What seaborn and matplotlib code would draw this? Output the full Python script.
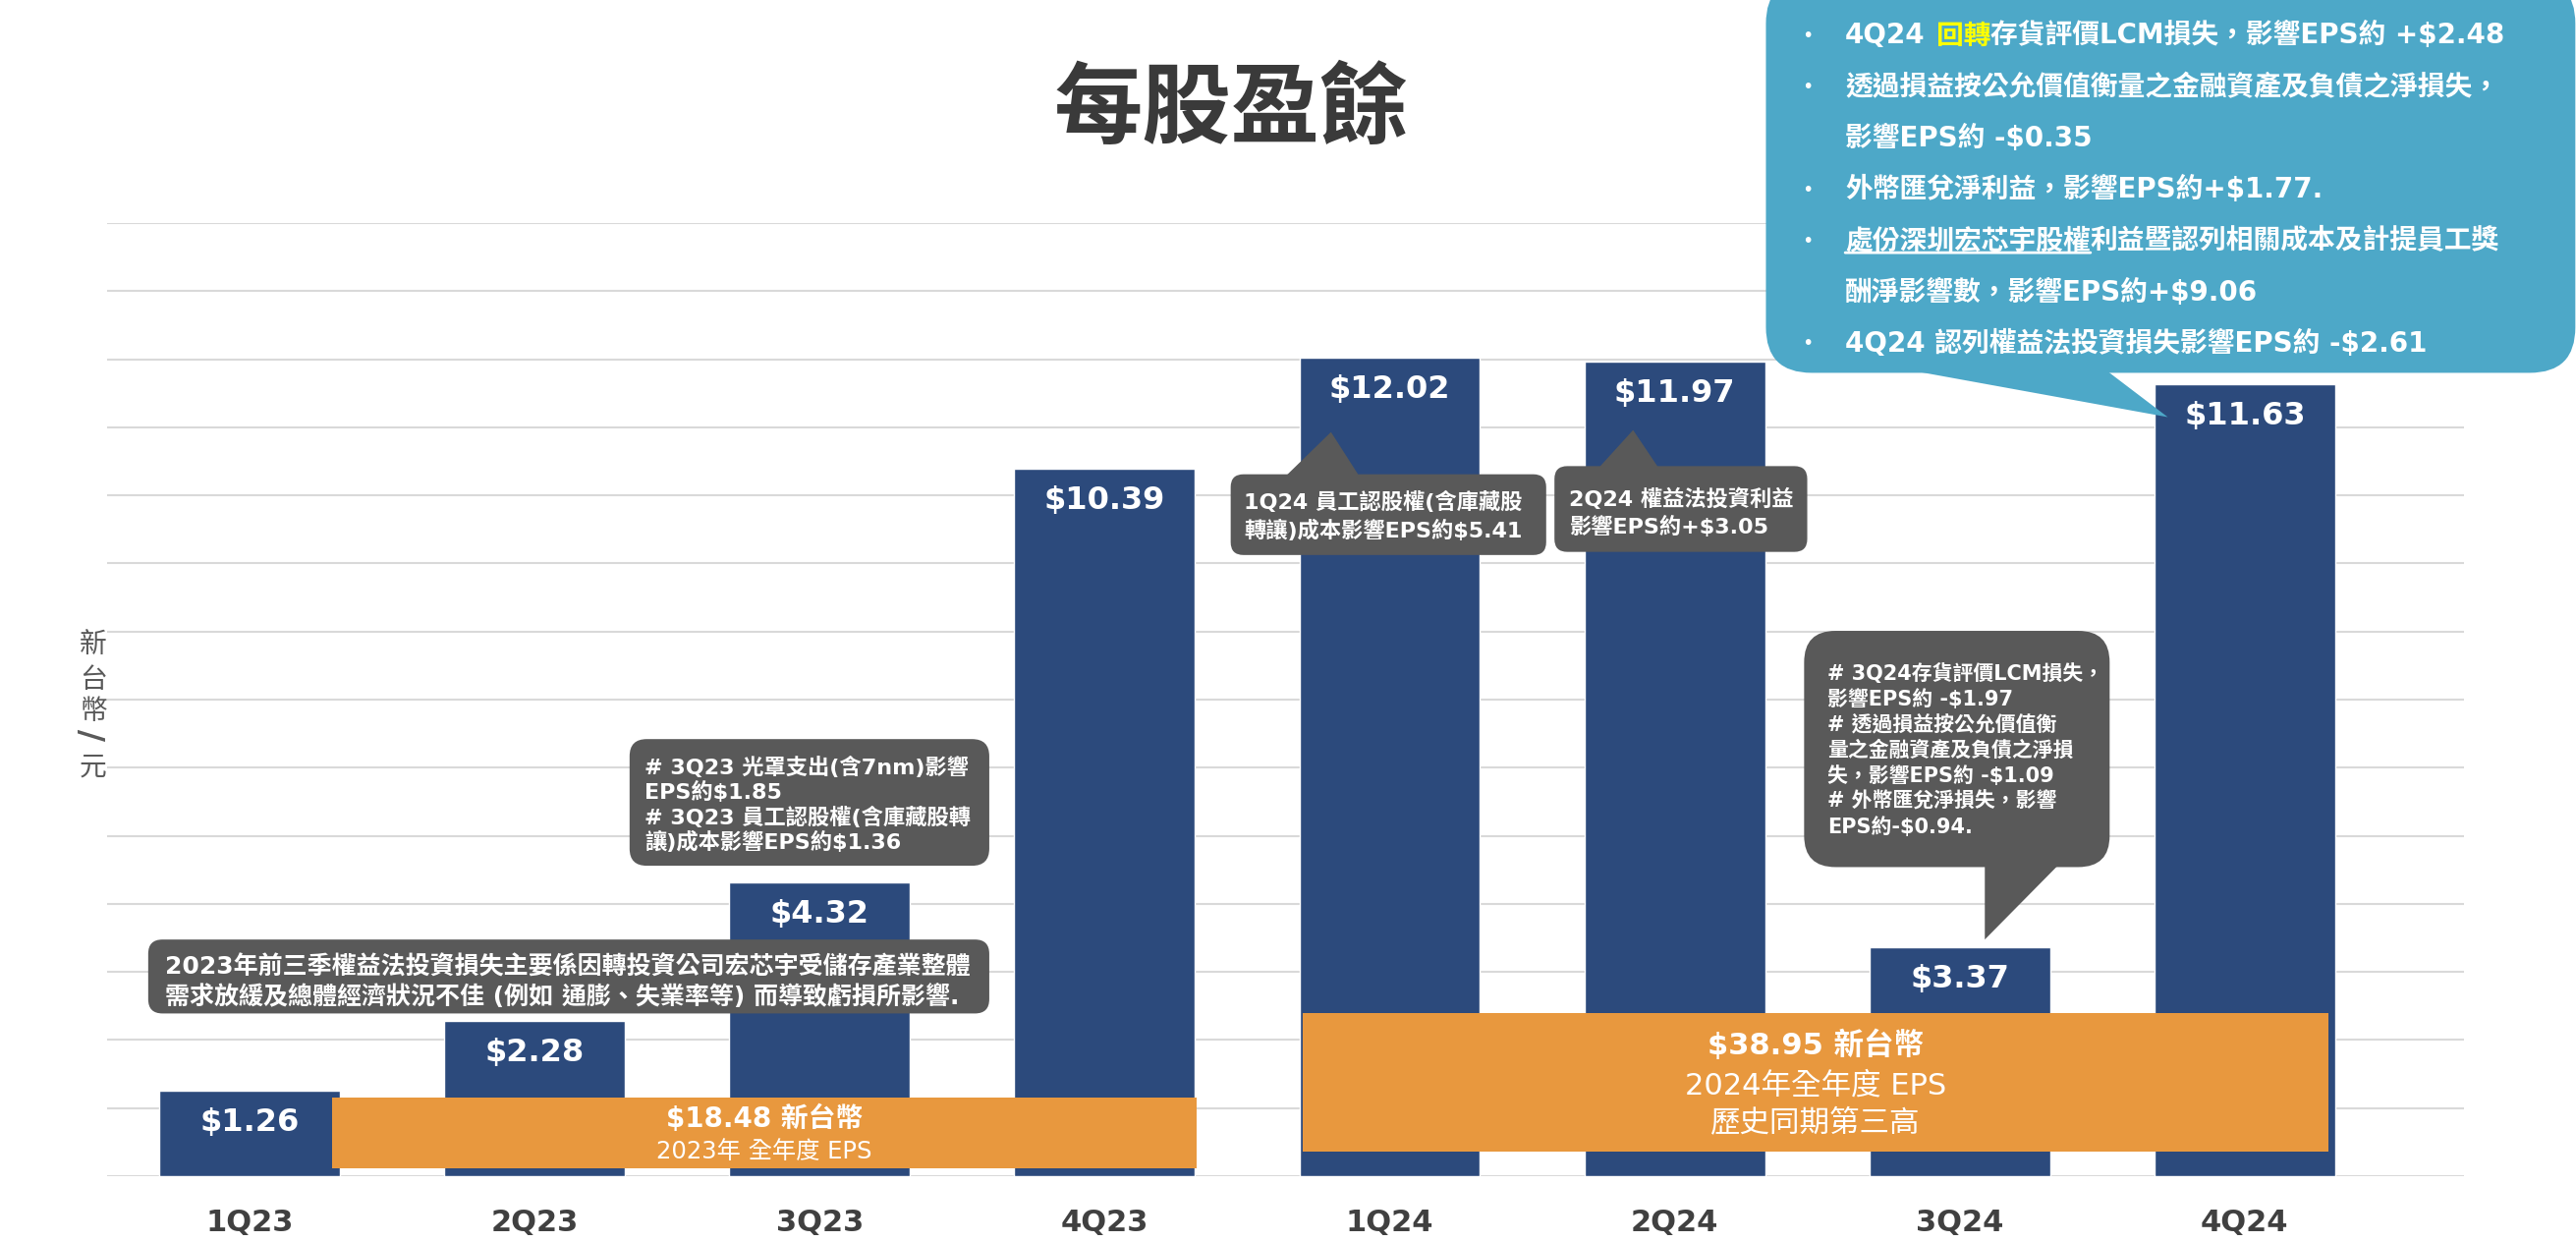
import pandas as pd
import seaborn as sns
import matplotlib.pyplot as plt
from matplotlib.patches import FancyBboxPatch, Polygon, Rectangle

# Données : BPA trimestriels (NT$)
quarters = ['1Q23', '2Q23', '3Q23', '4Q23', '1Q24', '2Q24', '3Q24', '4Q24']
eps = [1.26, 2.28, 4.32, 10.39, 12.02, 11.97, 3.37, 11.63]

title = '每股盈餘'
y_label_chars = ['新', '台', '幣', '/', '元']

total_2023 = ['$18.48 新台幣', '2023年 全年度 EPS']
total_2024 = ['$38.95 新台幣', '2024年全年度 EPS', '歷史同期第三高']

note_2023 = ['2023年前三季權益法投資損失主要係因轉投資公司宏芯宇受儲存產業整體',
             '需求放緩及總體經濟狀況不佳 (例如 通膨、失業率等) 而導致虧損所影響.']
note_3q23 = ['# 3Q23 光罩支出(含7nm)影響', 'EPS約$1.85',
             '# 3Q23 員工認股權(含庫藏股轉', '讓)成本影響EPS約$1.36']
note_1q24 = ['1Q24 員工認股權(含庫藏股', '轉讓)成本影響EPS約$5.41']
note_2q24 = ['2Q24 權益法投資利益', '影響EPS約+$3.05']
note_3q24 = ['# 3Q24存貨評價LCM損失，', '影響EPS約 -$1.97', '# 透過損益按公允價值衡',
             '量之金融資產及負債之淨損', '失，影響EPS約 -$1.09', '# 外幣匯兌淨損失，影響',
             'EPS約-$0.94.']
note_4q24_simple = {1: '透過損益按公允價值衡量之金融資產及負債之淨損失，',
                    2: '影響EPS約 -$0.35',
                    3: '外幣匯兌淨利益，影響EPS約+$1.77.',
                    5: '酬淨影響數，影響EPS約+$9.06',
                    6: '4Q24 認列權益法投資損失影響EPS約 -$2.61'}
note_4q24_l0 = ['4Q24', '回轉', '存貨評價LCM損失，影響EPS約 +$2.48']
note_4q24_l4 = ['處份深圳宏芯宇股權', '利益暨認列相關成本及計提員工獎']
bullet_rows = [0, 1, 3, 4, 6]

BAR = '#2C4A7C'
ORANGE = '#E8983E'
GREY = '#595959'
BLUE = '#4DA8C8'

sns.set_style('white')
plt.rcParams['font.family'] = ['DejaVu Sans', 'Noto Sans CJK TC']

fig = plt.figure(figsize=(26.22, 12.64), dpi=100)
ax = fig.add_axes([0.0416, 0.0530, 0.9150, 0.7674])

df = pd.DataFrame({'quarter': quarters, 'eps': eps})
sns.barplot(data=df, x='quarter', y='eps', color=BAR, saturation=1, width=0.634,
            ax=ax, zorder=2)

ax.set_xlim(-0.5, 7.77)
ax.set_ylim(0, 14)
ax.set_yticks(range(0, 15))
ax.set_yticklabels([])
ax.tick_params(axis='y', length=0)
ax.grid(axis='y', color='#D9D9D9', lw=1.5)
ax.set_axisbelow(True)
ax.set_xlabel('')
ax.set_ylabel('')
for s in ax.spines.values():
    s.set_visible(False)
ax.tick_params(axis='x', length=0, pad=24, labelsize=22, labelcolor='#404040')
for lab in ax.get_xticklabels():
    lab.set_fontweight('bold')

# valeurs sur les barres
for i, v in enumerate(eps):
    ax.text(i, v - 0.47, f'${v:.2f}', ha='center', va='center', color='white',
            fontsize=23, fontweight='bold', zorder=3)

# rapport px/unité pour des coins bien ronds
ASPECT = (0.9150 * 2622 / 8.27) / (0.7674 * 1264 / 14)


def box(x0, y0, x1, y1, color, r=0.0, pointer=None, z=5):
    ax.add_patch(FancyBboxPatch((x0, y0), x1 - x0, y1 - y0,
                                boxstyle=f'round,pad=0,rounding_size={r}',
                                mutation_aspect=ASPECT, fc=color, ec='none',
                                zorder=z, clip_on=False))
    if pointer is not None:
        ax.add_patch(Polygon(pointer, closed=True, fc=color, ec='none', zorder=z,
                             clip_on=False))


def write_lines(x, y, lines, step, **kw):
    out = []
    for i, s in enumerate(lines):
        out.append(ax.annotate(s, (x, y), xytext=(0, -i * step), textcoords='offset points',
                               ha='left', va='center', color='white', zorder=7,
                               annotation_clip=False, **kw))
    return out


# totaux annuels (orange)
ax.add_patch(Rectangle((0.290, 0.121), 3.031, 1.038, fc=ORANGE, ec='none', zorder=4))
ax.text(1.805, 0.845, total_2023[0], ha='center', va='center', color='white',
        fontsize=20, fontweight='bold', zorder=6)
ax.text(1.805, 0.362, total_2023[1], ha='center', va='center', color='white',
        fontsize=17.5, zorder=6)

ax.add_patch(Rectangle((3.696, 0.362), 3.597, 2.028, fc=ORANGE, ec='none', zorder=4))
ax.text(5.494, 1.931, total_2024[0], ha='center', va='center', color='white',
        fontsize=22, fontweight='bold', zorder=6)
ax.text(5.494, 1.328, total_2024[1], ha='center', va='center', color='white',
        fontsize=22, zorder=6)
ax.text(5.494, 0.772, total_2024[2], ha='center', va='center', color='white',
        fontsize=22, zorder=6)

# bulles grises
box(-0.356, 2.39, 2.595, 3.476, GREY, r=0.05)
write_lines(-0.298, 3.065, note_2023, 21.7, fontsize=18, fontweight='bold')

box(1.333, 4.56, 2.595, 6.42, GREY, r=0.06)
write_lines(1.385, 6.01, note_3q23, 18.4, fontsize=16, fontweight='bold')

box(3.442, 9.124, 4.549, 10.31, GREY, r=0.045,
    pointer=[(3.627, 10.25), (3.898, 10.25), (3.794, 10.93)])
write_lines(3.488, 9.90, note_1q24, 20.5, fontsize=16, fontweight='bold')

box(4.578, 9.17, 5.465, 10.43, GREY, r=0.045,
    pointer=[(4.728, 10.38), (4.947, 10.38), (4.854, 10.96)])
write_lines(4.63, 9.945, note_2q24, 20.5, fontsize=16, fontweight='bold')

box(5.454, 4.54, 6.526, 8.01, GREY, r=0.11,
    pointer=[(6.088, 4.6), (6.353, 4.6), (6.088, 3.476)])
write_lines(5.535, 7.386, note_3q24, 18.7, fontsize=15, fontweight='bold')

# bulle bleue 4Q24
box(5.32, 11.80, 8.16, 17.6, BLUE, r=0.16,
    pointer=[(5.81, 11.85), (6.51, 11.85), (6.73, 11.15)])
y0 = 16.75
step = 37.6
for row in bullet_rows:
    ax.annotate('•', (5.465, y0), xytext=(0, -row * step), textcoords='offset points',
                ha='center', va='center', color='white', fontsize=14, zorder=7,
                annotation_clip=False)
for row, s in note_4q24_simple.items():
    ax.annotate(s, (5.598, y0), xytext=(0, -row * step), textcoords='offset points',
                ha='left', va='center', color='white', fontsize=20, fontweight='bold',
                zorder=7, annotation_clip=False)

t0 = ax.annotate(note_4q24_l0[0], (5.598, y0), ha='left', va='center', color='white',
                 fontsize=20, fontweight='bold', zorder=7, annotation_clip=False)
t1 = ax.annotate(note_4q24_l0[1], (1, 0), xycoords=t0, xytext=(8, 0),
                 textcoords='offset points', ha='left', va='bottom', color='#FFFF00',
                 fontsize=20, fontweight='bold', zorder=7, annotation_clip=False)
ax.annotate(note_4q24_l0[2], (1, 0), xycoords=t1, ha='left', va='bottom', color='white',
            fontsize=20, fontweight='bold', zorder=7, annotation_clip=False)

u0 = ax.annotate(note_4q24_l4[0], (5.598, y0), xytext=(0, -4 * step),
                 textcoords='offset points', ha='left', va='center', color='white',
                 fontsize=20, fontweight='bold', zorder=7, annotation_clip=False)
ax.annotate(note_4q24_l4[1], (1, 0), xycoords=u0, ha='left', va='bottom', color='white',
            fontsize=20, fontweight='bold', zorder=7, annotation_clip=False)
ax.annotate('', xy=(1, 0.08), xycoords=u0, xytext=(0, 0.08), textcoords=u0,
            arrowprops=dict(arrowstyle='-', color='white', lw=2, shrinkA=0, shrinkB=0),
            zorder=7, annotation_clip=False)

# titre et unité
fig.text(0.478, 0.911, title, ha='center', va='center', fontsize=65, fontweight='bold',
         color='#3A3A3A', family=['Noto Sans CJK TC'])
y_pos = [656, 692, 724, 748, 781]
for ch, yp in zip(y_label_chars, y_pos):
    if ch == '/':
        fig.text(95 / 2622, 1 - yp / 1264, ch, ha='center', va='center', fontsize=24,
                 color='#595959', rotation=90, fontweight='bold', family=['DejaVu Sans'])
    else:
        fig.text(95 / 2622, 1 - yp / 1264, ch, ha='center', va='center', fontsize=20,
                 color='#595959', family=['Noto Sans CJK TC', 'DejaVu Sans'])

fig.savefig('out.png', dpi=100)
